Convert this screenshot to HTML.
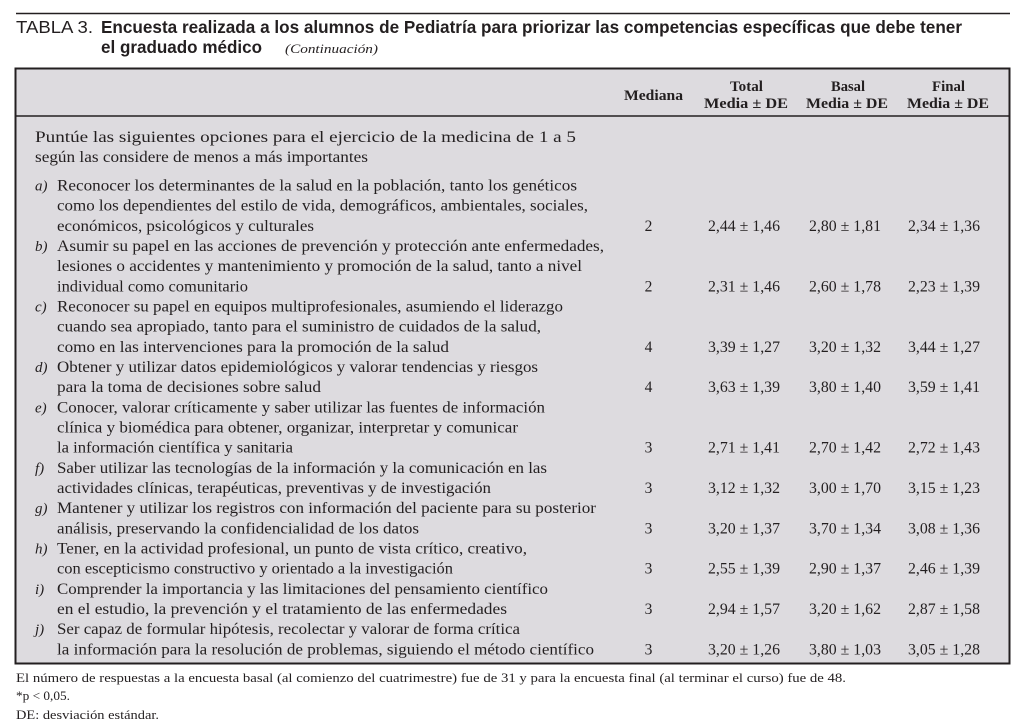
<!DOCTYPE html>
<html><head><meta charset="utf-8"><style>
html,body{margin:0;padding:0;background:#fff;}
svg{display:block;}
.s{font-family:"Liberation Serif",serif;font-size:15.5px;fill:#231f20;}
.i{font-family:"Liberation Serif",serif;font-style:italic;font-size:15px;fill:#231f20;}
.h{font-family:"Liberation Serif",serif;font-weight:bold;font-size:14.5px;fill:#231f20;}
.t{font-family:"Liberation Sans",sans-serif;font-size:17.5px;fill:#231f20;}
.tb{font-family:"Liberation Sans",sans-serif;font-weight:bold;font-size:17.5px;fill:#231f20;}
.f{font-family:"Liberation Serif",serif;font-size:13px;fill:#231f20;}
</style></head><body>
<svg width="1024" height="728" viewBox="0 0 1024 728" xmlns="http://www.w3.org/2000/svg">
<rect width="1024" height="728" fill="#fff"/>
<line x1="16" y1="13.5" x2="1010" y2="13.5" stroke="#231f20" stroke-width="1.5"/>
<text class="t" x="16" y="33" textLength="77" lengthAdjust="spacingAndGlyphs">TABLA 3.</text>
<text class="tb" x="101" y="33" textLength="861" lengthAdjust="spacingAndGlyphs">Encuesta realizada a los alumnos de Pediatría para priorizar las competencias específicas que debe tener</text>
<text class="tb" x="101" y="53" textLength="161" lengthAdjust="spacingAndGlyphs">el graduado médico</text>
<text class="i" x="285" y="53" style="font-size:12.5px" textLength="93" lengthAdjust="spacingAndGlyphs">(Continuación)</text>

<rect x="15.5" y="68.5" width="994" height="595" fill="#dddbdf" stroke="#231f20" stroke-width="2"/>
<line x1="15.5" y1="116" x2="1009.5" y2="116" stroke="#231f20" stroke-width="1.5"/>

<text class="h" x="624" y="100" textLength="59" lengthAdjust="spacingAndGlyphs">Mediana</text>
<text class="h" x="730" y="91" textLength="33" lengthAdjust="spacingAndGlyphs">Total</text>
<text class="h" x="704" y="108" textLength="84" lengthAdjust="spacingAndGlyphs">Media ± DE</text>
<text class="h" x="831" y="91" textLength="34" lengthAdjust="spacingAndGlyphs">Basal</text>
<text class="h" x="806" y="108" textLength="82" lengthAdjust="spacingAndGlyphs">Media ± DE</text>
<text class="h" x="932" y="91" textLength="33" lengthAdjust="spacingAndGlyphs">Final</text>
<text class="h" x="907" y="108" textLength="82" lengthAdjust="spacingAndGlyphs">Media ± DE</text>

<text class="s" x="35" y="142" textLength="541" lengthAdjust="spacingAndGlyphs">Puntúe las siguientes opciones para el ejercicio de la medicina de 1 a 5</text>
<text class="s" x="35" y="162" textLength="333" lengthAdjust="spacingAndGlyphs">según las considere de menos a más importantes</text>

<text class="i" x="35" y="190.5">a)</text>
<text class="s" x="57" y="190.5" textLength="520" lengthAdjust="spacingAndGlyphs">Reconocer los determinantes de la salud en la población, tanto los genéticos</text>
<text class="s" x="57" y="210.7" textLength="531" lengthAdjust="spacingAndGlyphs">como los dependientes del estilo de vida, demográficos, ambientales, sociales,</text>
<text class="s" x="57" y="230.8" textLength="257" lengthAdjust="spacingAndGlyphs">económicos, psicológicos y culturales</text>

<text class="i" x="35" y="251">b)</text>
<text class="s" x="57" y="251" textLength="547" lengthAdjust="spacingAndGlyphs">Asumir su papel en las acciones de prevención y protección ante enfermedades,</text>
<text class="s" x="57" y="271.2" textLength="525" lengthAdjust="spacingAndGlyphs">lesiones o accidentes y mantenimiento y promoción de la salud, tanto a nivel</text>
<text class="s" x="57" y="291.4" textLength="191" lengthAdjust="spacingAndGlyphs">individual como comunitario</text>

<text class="i" x="35" y="311.5">c)</text>
<text class="s" x="57" y="311.5" textLength="506" lengthAdjust="spacingAndGlyphs">Reconocer su papel en equipos multiprofesionales, asumiendo el liderazgo</text>
<text class="s" x="57" y="331.7" textLength="484" lengthAdjust="spacingAndGlyphs">cuando sea apropiado, tanto para el suministro de cuidados de la salud,</text>
<text class="s" x="57" y="351.9" textLength="392" lengthAdjust="spacingAndGlyphs">como en las intervenciones para la promoción de la salud</text>

<text class="i" x="35" y="372">d)</text>
<text class="s" x="57" y="372" textLength="481" lengthAdjust="spacingAndGlyphs">Obtener y utilizar datos epidemiológicos y valorar tendencias y riesgos</text>
<text class="s" x="57" y="392.2" textLength="264" lengthAdjust="spacingAndGlyphs">para la toma de decisiones sobre salud</text>

<text class="i" x="35" y="412.4">e)</text>
<text class="s" x="57" y="412.4" textLength="488" lengthAdjust="spacingAndGlyphs">Conocer, valorar críticamente y saber utilizar las fuentes de información</text>
<text class="s" x="57" y="432.5" textLength="461" lengthAdjust="spacingAndGlyphs">clínica y biomédica para obtener, organizar, interpretar y comunicar</text>
<text class="s" x="57" y="452.7" textLength="236" lengthAdjust="spacingAndGlyphs">la información científica y sanitaria</text>

<text class="i" x="35" y="472.9">f)</text>
<text class="s" x="57" y="472.9" textLength="490" lengthAdjust="spacingAndGlyphs">Saber utilizar las tecnologías de la información y la comunicación en las</text>
<text class="s" x="57" y="493.1" textLength="434" lengthAdjust="spacingAndGlyphs">actividades clínicas, terapéuticas, preventivas y de investigación</text>

<text class="i" x="35" y="513.2">g)</text>
<text class="s" x="57" y="513.2" textLength="539" lengthAdjust="spacingAndGlyphs">Mantener y utilizar los registros con información del paciente para su posterior</text>
<text class="s" x="57" y="533.4" textLength="362" lengthAdjust="spacingAndGlyphs">análisis, preservando la confidencialidad de los datos</text>

<text class="i" x="35" y="553.6">h)</text>
<text class="s" x="57" y="553.6" textLength="470" lengthAdjust="spacingAndGlyphs">Tener, en la actividad profesional, un punto de vista crítico, creativo,</text>
<text class="s" x="57" y="573.7" textLength="396" lengthAdjust="spacingAndGlyphs">con escepticismo constructivo y orientado a la investigación</text>

<text class="i" x="35" y="593.9">i)</text>
<text class="s" x="57" y="593.9" textLength="491" lengthAdjust="spacingAndGlyphs">Comprender la importancia y las limitaciones del pensamiento científico</text>
<text class="s" x="57" y="614.1" textLength="450" lengthAdjust="spacingAndGlyphs">en el estudio, la prevención y el tratamiento de las enfermedades</text>

<text class="i" x="35" y="634.2">j)</text>
<text class="s" x="57" y="634.2" textLength="463" lengthAdjust="spacingAndGlyphs">Ser capaz de formular hipótesis, recolectar y valorar de forma crítica</text>
<text class="s" x="57" y="654.4" textLength="537" lengthAdjust="spacingAndGlyphs">la información para la resolución de problemas, siguiendo el método científico</text>

<g class="s" text-anchor="middle">
<text x="648.5" y="230.8">2</text><text x="648.5" y="291.4">2</text><text x="648.5" y="351.9">4</text><text x="648.5" y="392.2">4</text><text x="648.5" y="452.7">3</text><text x="648.5" y="493.1">3</text><text x="648.5" y="533.4">3</text><text x="648.5" y="573.7">3</text><text x="648.5" y="614.1">3</text><text x="648.5" y="654.4">3</text>
</g>
<g class="s">
<text x="708" y="230.8" textLength="72" lengthAdjust="spacingAndGlyphs">2,44 ± 1,46</text>
<text x="809" y="230.8" textLength="72" lengthAdjust="spacingAndGlyphs">2,80 ± 1,81</text>
<text x="908" y="230.8" textLength="72" lengthAdjust="spacingAndGlyphs">2,34 ± 1,36</text>

<text x="708" y="291.4" textLength="72" lengthAdjust="spacingAndGlyphs">2,31 ± 1,46</text>
<text x="809" y="291.4" textLength="72" lengthAdjust="spacingAndGlyphs">2,60 ± 1,78</text>
<text x="908" y="291.4" textLength="72" lengthAdjust="spacingAndGlyphs">2,23 ± 1,39</text>

<text x="708" y="351.9" textLength="72" lengthAdjust="spacingAndGlyphs">3,39 ± 1,27</text>
<text x="809" y="351.9" textLength="72" lengthAdjust="spacingAndGlyphs">3,20 ± 1,32</text>
<text x="908" y="351.9" textLength="72" lengthAdjust="spacingAndGlyphs">3,44 ± 1,27</text>

<text x="708" y="392.2" textLength="72" lengthAdjust="spacingAndGlyphs">3,63 ± 1,39</text>
<text x="809" y="392.2" textLength="72" lengthAdjust="spacingAndGlyphs">3,80 ± 1,40</text>
<text x="908" y="392.2" textLength="72" lengthAdjust="spacingAndGlyphs">3,59 ± 1,41</text>

<text x="708" y="452.7" textLength="72" lengthAdjust="spacingAndGlyphs">2,71 ± 1,41</text>
<text x="809" y="452.7" textLength="72" lengthAdjust="spacingAndGlyphs">2,70 ± 1,42</text>
<text x="908" y="452.7" textLength="72" lengthAdjust="spacingAndGlyphs">2,72 ± 1,43</text>

<text x="708" y="493.1" textLength="72" lengthAdjust="spacingAndGlyphs">3,12 ± 1,32</text>
<text x="809" y="493.1" textLength="72" lengthAdjust="spacingAndGlyphs">3,00 ± 1,70</text>
<text x="908" y="493.1" textLength="72" lengthAdjust="spacingAndGlyphs">3,15 ± 1,23</text>

<text x="708" y="533.4" textLength="72" lengthAdjust="spacingAndGlyphs">3,20 ± 1,37</text>
<text x="809" y="533.4" textLength="72" lengthAdjust="spacingAndGlyphs">3,70 ± 1,34</text>
<text x="908" y="533.4" textLength="72" lengthAdjust="spacingAndGlyphs">3,08 ± 1,36</text>

<text x="708" y="573.7" textLength="72" lengthAdjust="spacingAndGlyphs">2,55 ± 1,39</text>
<text x="809" y="573.7" textLength="72" lengthAdjust="spacingAndGlyphs">2,90 ± 1,37</text>
<text x="908" y="573.7" textLength="72" lengthAdjust="spacingAndGlyphs">2,46 ± 1,39</text>

<text x="708" y="614.1" textLength="72" lengthAdjust="spacingAndGlyphs">2,94 ± 1,57</text>
<text x="809" y="614.1" textLength="72" lengthAdjust="spacingAndGlyphs">3,20 ± 1,62</text>
<text x="908" y="614.1" textLength="72" lengthAdjust="spacingAndGlyphs">2,87 ± 1,58</text>

<text x="708" y="654.4" textLength="72" lengthAdjust="spacingAndGlyphs">3,20 ± 1,26</text>
<text x="809" y="654.4" textLength="72" lengthAdjust="spacingAndGlyphs">3,80 ± 1,03</text>
<text x="908" y="654.4" textLength="72" lengthAdjust="spacingAndGlyphs">3,05 ± 1,28</text>
</g>

<text class="f" x="16" y="682" textLength="830" lengthAdjust="spacingAndGlyphs">El número de respuestas a la encuesta basal (al comienzo del cuatrimestre) fue de 31 y para la encuesta final (al terminar el curso) fue de 48.</text>
<text class="f" x="16" y="700" textLength="54" lengthAdjust="spacingAndGlyphs">*p &lt; 0,05.</text>
<text class="f" x="16" y="719" textLength="143" lengthAdjust="spacingAndGlyphs">DE: desviación estándar.</text>
</svg>
</body></html>
